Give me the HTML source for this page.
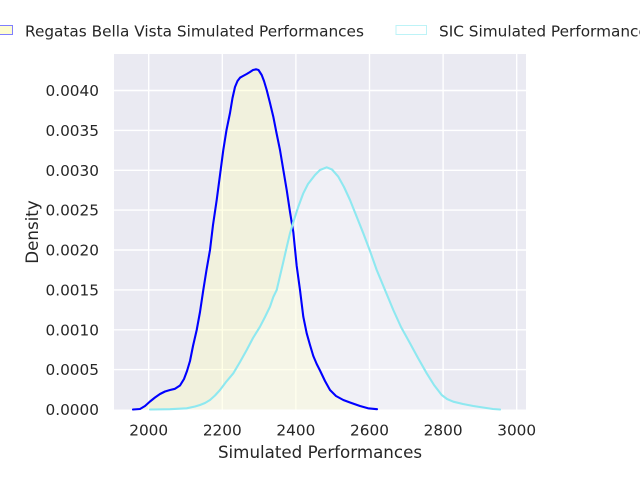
<!DOCTYPE html>
<html>
<head>
<meta charset="utf-8">
<style>
html,body{margin:0;padding:0;background:#fff;}
svg{display:block;}
text{font-family:"DejaVu Sans","Liberation Sans",sans-serif;fill:#262626;}
</style>
</head>
<body>
<svg width="640" height="480" viewBox="0 0 640 480" xmlns="http://www.w3.org/2000/svg">
  <rect x="0" y="0" width="640" height="480" fill="#ffffff"/>
  <!-- axes background -->
  <rect x="114" y="54" width="412" height="355.5" fill="#eaeaf2"/>
  <!-- grid -->
  <g stroke="#ffffff" stroke-width="1.4">
    <line x1="148.7" y1="54" x2="148.7" y2="409.5"/>
    <line x1="222.3" y1="54" x2="222.3" y2="409.5"/>
    <line x1="295.9" y1="54" x2="295.9" y2="409.5"/>
    <line x1="369.5" y1="54" x2="369.5" y2="409.5"/>
    <line x1="443.1" y1="54" x2="443.1" y2="409.5"/>
    <line x1="516.7" y1="54" x2="516.7" y2="409.5"/>
    <line x1="114" y1="369.6" x2="526" y2="369.6"/>
    <line x1="114" y1="329.8" x2="526" y2="329.8"/>
    <line x1="114" y1="289.9" x2="526" y2="289.9"/>
    <line x1="114" y1="250.0" x2="526" y2="250.0"/>
    <line x1="114" y1="210.1" x2="526" y2="210.1"/>
    <line x1="114" y1="170.3" x2="526" y2="170.3"/>
    <line x1="114" y1="130.4" x2="526" y2="130.4"/>
    <line x1="114" y1="90.5" x2="526" y2="90.5"/>
  </g>
  <!-- fills -->
  <path fill="rgba(255,255,180,0.33)" d="M133,409.5 L140,409 L145,406 L150,401.5 L155,397.5 L160,394 L165,391.5 L170,390 L175,388.8 L180,385.5 L184,379 L187,371 L190,361 L193,346 L196.7,330 L200,312 L203.3,290 L206.5,270 L210,250 L213,225 L216.7,200 L220,175 L223.3,150 L226.5,130 L230,113 L232.5,98 L235,87 L237.5,81 L240,77.7 L243,76 L246.7,74 L250,72 L253,70 L256,69.3 L258.5,70 L261.7,75 L264,81 L266.7,90 L270,103 L273.3,116.7 L276.5,133 L280,150 L283,168 L286.7,190 L290,212 L293.3,232 L296.7,266 L300,290 L303.3,316.7 L306.7,333.3 L310,345 L313.3,356 L316.7,364 L320,370.5 L325,381 L330,390 L336,396 L343.3,400 L350,402.5 L360,406 L368,408.3 L377,409.2 L383,409.5 Z"/>
  <path fill="rgba(255,255,255,0.3)" d="M150,409.5 L170,409.2 L186.7,408.3 L195,406.5 L200,405 L205,403 L210,400 L215,395.5 L220,390 L226,382 L233.3,373.3 L240,362 L246.7,350 L253,338 L260,326.7 L265,317 L270,306.7 L273.3,297 L276.7,290 L280,276 L283.3,262 L286.5,248 L290,233.3 L293.3,222 L298.3,206.7 L303.3,193.3 L308,184 L315,175 L320,170 L326.7,167.3 L332,169.5 L338.3,176.7 L344,187 L350,200 L356,215 L363.3,233.3 L370,251 L376.7,270 L385,290 L393.3,310 L401,327 L410,343.3 L418,358 L426.7,373.3 L434,385 L441.7,395 L447,399 L453.3,401.7 L463,404 L473.3,406 L483,407.5 L493,409 L500,409.5 Z"/>
  <!-- lines -->
  <path fill="none" stroke="#0000ff" stroke-width="2.1" stroke-linejoin="round" stroke-linecap="round" d="M133,409.5 L140,409 L145,406 L150,401.5 L155,397.5 L160,394 L165,391.5 L170,390 L175,388.8 L180,385.5 L184,379 L187,371 L190,361 L193,346 L196.7,330 L200,312 L203.3,290 L206.5,270 L210,250 L213,225 L216.7,200 L220,175 L223.3,150 L226.5,130 L230,113 L232.5,98 L235,87 L237.5,81 L240,77.7 L243,76 L246.7,74 L250,72 L253,70 L256,69.3 L258.5,70 L261.7,75 L264,81 L266.7,90 L270,103 L273.3,116.7 L276.5,133 L280,150 L283,168 L286.7,190 L290,212 L293.3,232 L296.7,266 L300,290 L303.3,316.7 L306.7,333.3 L310,345 L313.3,356 L316.7,364 L320,370.5 L325,381 L330,390 L336,396 L343.3,400 L350,402.5 L360,406 L368,408.3 L377,409.2"/>
  <path fill="none" stroke="#8ee8f0" stroke-width="2.1" stroke-linejoin="round" stroke-linecap="round" d="M150,409.5 L170,409.2 L186.7,408.3 L195,406.5 L200,405 L205,403 L210,400 L215,395.5 L220,390 L226,382 L233.3,373.3 L240,362 L246.7,350 L253,338 L260,326.7 L265,317 L270,306.7 L273.3,297 L276.7,290 L280,276 L283.3,262 L286.5,248 L290,233.3 L293.3,222 L298.3,206.7 L303.3,193.3 L308,184 L315,175 L320,170 L326.7,167.3 L332,169.5 L338.3,176.7 L344,187 L350,200 L356,215 L363.3,233.3 L370,251 L376.7,270 L385,290 L393.3,310 L401,327 L410,343.3 L418,358 L426.7,373.3 L434,385 L441.7,395 L447,399 L453.3,401.7 L463,404 L473.3,406 L483,407.5 L493,409 L500,409.5"/>
  <!-- y tick labels -->
  <g font-size="15.3" text-anchor="end">
    <text x="99" y="415">0.0000</text>
    <text x="99" y="375.1">0.0005</text>
    <text x="99" y="335.3">0.0010</text>
    <text x="99" y="295.4">0.0015</text>
    <text x="99" y="255.5">0.0020</text>
    <text x="99" y="215.6">0.0025</text>
    <text x="99" y="175.8">0.0030</text>
    <text x="99" y="135.9">0.0035</text>
    <text x="99" y="96">0.0040</text>
  </g>
  <!-- x tick labels -->
  <g font-size="15.3" text-anchor="middle">
    <text x="148.7" y="435.5">2000</text>
    <text x="222.3" y="435.5">2200</text>
    <text x="295.9" y="435.5">2400</text>
    <text x="369.5" y="435.5">2600</text>
    <text x="443.1" y="435.5">2800</text>
    <text x="516.7" y="435.5">3000</text>
  </g>
  <!-- axis labels -->
  <text x="320" y="458" font-size="16.7" text-anchor="middle">Simulated Performances</text>
  <text x="0" y="0" font-size="16.7" text-anchor="middle" transform="translate(38,232) rotate(-90)">Density</text>
  <!-- legend -->
  <rect x="-18" y="25.5" width="30.5" height="9" fill="#fdfcd0" stroke="#7f7fff" stroke-width="1"/>
  <text x="25" y="36.5" font-size="15.3">Regatas Bella Vista Simulated Performances</text>
  <rect x="396" y="25.5" width="30.5" height="9" fill="#ffffff" stroke="#bdf3f7" stroke-width="1"/>
  <text x="439" y="36.5" font-size="15.3">SIC Simulated Performances</text>
</svg>
</body>
</html>
